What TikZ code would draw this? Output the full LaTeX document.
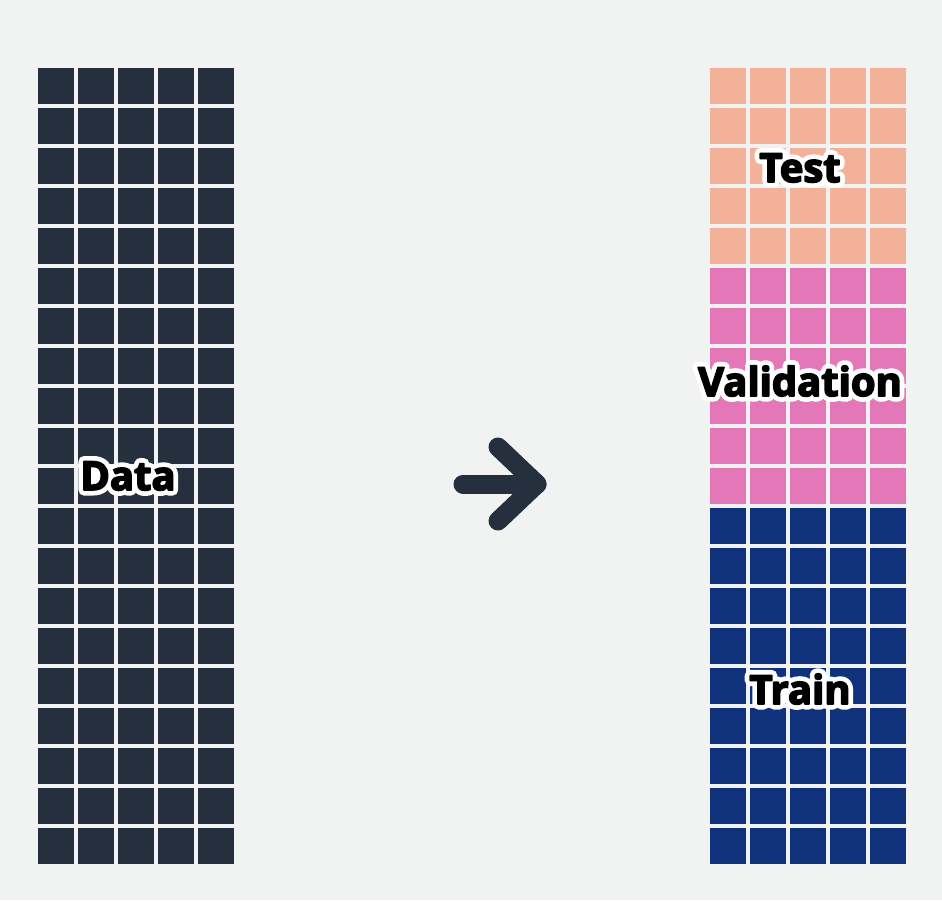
\documentclass[tikz,border=0pt]{standalone}
\usepackage{fontspec}
\setmainfont{Open Sans}
\usetikzlibrary{calc}
\definecolor{bgcol}{RGB}{241,242,242}
\definecolor{darkcell}{RGB}{38,47,62}
\definecolor{testcol}{RGB}{243,177,153}
\definecolor{valcol}{RGB}{228,119,184}
\definecolor{traincol}{RGB}{16,49,123}
\tikzset{
  lbl/.style={font=\fontsize{40}{43}\selectfont\bfseries, inner sep=0pt, anchor=center},
  arrowline/.style={draw=darkcell, line width=19pt, line cap=round, line join=round}
}
\newcommand\halotext[1]{\special{pdf:literal direct 1 j 1 J 1 1 1 RG 11 w 2 Tr}#1\special{pdf:literal direct 0 Tr}}
\newcommand\heavytext[1]{\special{pdf:literal direct 1 j 1 J 0 0 0 RG 1.6 w 2 Tr}#1\special{pdf:literal direct 0 Tr}}
\begin{document}
\begin{tikzpicture}[x=1pt,y=-1pt]
\fill[bgcol] (0,0) rectangle (942,900);
\useasboundingbox (0,0) rectangle (942,900);
% left grid
\foreach \r in {0,...,19}{
  \foreach \c in {0,...,4}{
    \fill[darkcell] (38+40*\c,68+40*\r) rectangle ++(36,36);
  }
}
% right grid
\foreach \r in {0,...,4}{
  \foreach \c in {0,...,4}{
    \fill[testcol] (710+40*\c,68+40*\r) rectangle ++(36,36);
  }
}
\foreach \r in {5,...,10}{
  \foreach \c in {0,...,4}{
    \fill[valcol] (710+40*\c,68+40*\r) rectangle ++(36,36);
  }
}
\foreach \r in {11,...,19}{
  \foreach \c in {0,...,4}{
    \fill[traincol] (710+40*\c,68+40*\r) rectangle ++(36,36);
  }
}
% arrow
\coordinate (arrS) at (463,484);
\coordinate (arrV) at (537,484);
\coordinate (arrT) at (498,447);
\coordinate (arrB) at (498,521);
\draw[arrowline] (arrS) -- (arrV);
\draw[arrowline] (arrT) -- (arrV) -- (arrB);
% labels
\node[lbl, text=white] (dataH) at (128,476) {\halotext{Data}};
\node[lbl, text=black] (data) at (dataH) {\heavytext{Data}};
\node[lbl, text=white] (testH) at (800,168) {\halotext{Test}};
\node[lbl, text=black] (test) at (testH) {\heavytext{Test}};
\node[lbl, text=white] (valH) at (800,381) {\halotext{Validation}};
\node[lbl, text=black] (val) at (valH) {\heavytext{Validation}};
\node[lbl, text=white] (trainH) at (800,689) {\halotext{Train}};
\node[lbl, text=black] (train) at (trainH) {\heavytext{Train}};
\end{tikzpicture}
\end{document}
